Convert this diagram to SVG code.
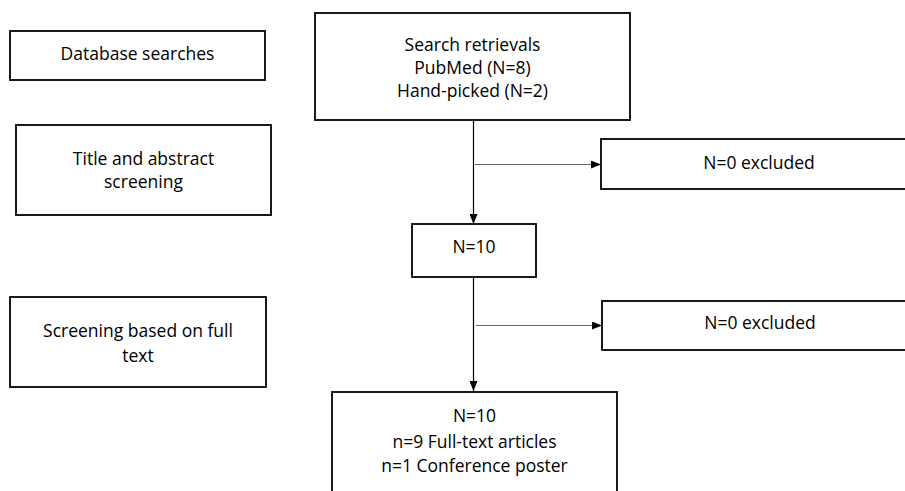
<svg xmlns="http://www.w3.org/2000/svg" width="905" height="491" viewBox="0 0 905 491">
<style>
.box{fill:#fff;stroke:#000;stroke-width:1.8}
.t{font-family:"Open Sans","Liberation Sans",sans-serif;font-size:17.5px;fill:#000;text-anchor:middle}
.ln{fill:none;stroke:#000;stroke-width:1.2}
.lg{fill:none;stroke:#666;stroke-width:1.2}
</style>
<defs>
<marker id="ah" markerWidth="10" markerHeight="8" refX="10" refY="4" orient="auto" markerUnits="userSpaceOnUse">
<path d="M0,0 L10,4 L0,8 Z" fill="#000"/>
</marker>
</defs>
<rect width="905" height="491" fill="#fff"/>
<g id="connectors">
<line class="ln" x1="473.5" y1="120" x2="473.5" y2="224" marker-end="url(#ah)"/>
<line class="lg" x1="475" y1="164.5" x2="601" y2="164.5" marker-end="url(#ah)"/>
<line class="ln" x1="473.5" y1="277" x2="473.5" y2="391" marker-end="url(#ah)"/>
<line class="lg" x1="476" y1="325.5" x2="602" y2="325.5" marker-end="url(#ah)"/>
</g>
<g id="db-searches">
<rect class="box" x="10" y="31" width="255" height="49"/>
<text class="t" x="137.5" y="59.5">Database searches</text>
</g>
<g id="title-abstract">
<rect class="box" x="16" y="125" width="255" height="90"/>
<text class="t" x="143.5" y="165">Title and abstract</text>
<text class="t" x="143.5" y="188">screening</text>
</g>
<g id="full-text">
<rect class="box" x="10" y="297" width="256" height="90"/>
<text class="t" x="138" y="336.5">Screening based on full</text>
<text class="t" x="138" y="362">text</text>
</g>
<g id="search-retrievals">
<rect class="box" x="315" y="13" width="315" height="107"/>
<text class="t" x="472.5" y="50.5">Search retrievals</text>
<text class="t" x="472.5" y="73.5">PubMed (N=8)</text>
<text class="t" x="472.5" y="97">Hand-picked (N=2)</text>
</g>
<g id="excluded-1">
<rect class="box" x="601" y="139" width="320" height="50"/>
<text class="t" x="759" y="168.5">N=0 excluded</text>
</g>
<g id="n10">
<rect class="box" x="412" y="224" width="124" height="53"/>
<text class="t" x="474" y="252.5">N=10</text>
</g>
<g id="excluded-2">
<rect class="box" x="602" y="301" width="320" height="49"/>
<text class="t" x="760" y="328.5">N=0 excluded</text>
</g>
<g id="final">
<rect class="box" x="332" y="392" width="285" height="110"/>
<text class="t" x="474.5" y="421.5">N=10</text>
<text class="t" x="474.5" y="448">n=9 Full-text articles</text>
<text class="t" x="474.5" y="471.5">n=1 Conference poster</text>
</g>
</svg>
